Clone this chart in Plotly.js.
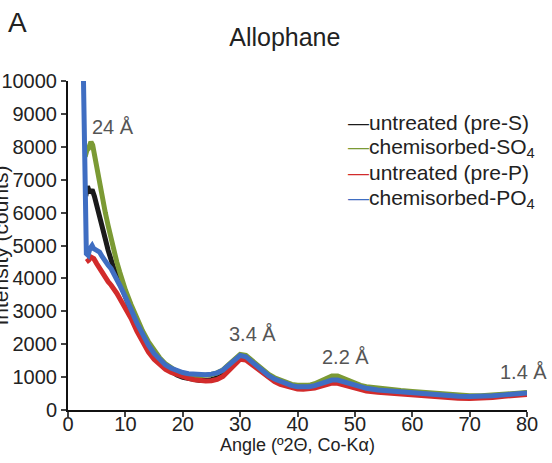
<!DOCTYPE html>
<html>
<head>
<meta charset="utf-8">
<script src="https://cdn.plot.ly/plotly-3.0.1.min.js"></script>
<style>html,body{margin:0;padding:0;background:#fff;}#chart{width:552px;height:463px;}</style>
</head>
<body>
<div id="chart"></div>
<script>
// ---- data ----
const seriesNames = ["untreated (pre-S)", "chemisorbed-SO<sub>4</sub>", "untreated (pre-P)", "chemisorbed-PO<sub>4</sub>"];

const angleBlack = [3.1,3.4,3.8,4.2,4.6,5,5.5,6,6.5,7,7.5,8,8.5,9,9.5,10,11,12,13,14,15,16,17,18,19,20,21,22,23,24,25,26,27,28,29,30,31,32,33,34,35,36,37,38,39,40,41,42,43,44,45,46,47,48,49,50,52,54,56,58,60,62,64,66,68,70,72,74,76,78,80];
const intensityBlack = [6500,6800,6600,6700,6500,6250,5900,5550,5200,4850,4550,4300,4100,3850,3650,3450,3000,2600,2230,1920,1670,1460,1290,1160,1060,990,950,920,900,900,920,980,1080,1260,1470,1610,1580,1440,1290,1140,1010,910,830,770,720,690,680,690,720,780,840,890,890,840,770,710,640,590,560,540,520,490,460,430,410,400,400,420,450,490,510];

const angleGreen = [3.0,3.3,3.6,4.0,4.3,4.7,5,5.5,6,6.5,7,7.5,8,8.5,9,9.5,10,11,12,13,14,15,16,17,18,19,20,21,22,23,24,25,26,27,28,29,30,31,32,33,34,35,36,37,38,39,40,41,42,43,44,45,46,47,48,49,50,51,52,54,56,58,60,62,64,66,68,70,72,74,76,78,80];
const intensityGreen = [7700,7900,7950,8150,8050,7650,7350,6900,6450,6000,5600,5200,4850,4500,4200,3900,3650,3200,2780,2400,2080,1800,1580,1400,1270,1170,1110,1070,1050,1040,1050,1080,1130,1220,1380,1560,1690,1660,1520,1360,1210,1080,980,900,830,780,750,740,750,800,880,970,1030,1030,960,870,800,750,710,660,620,590,560,530,500,470,440,430,430,450,480,510,530];

const angleRed = [3.2,3.6,4.0,4.5,5,5.5,6,6.5,7,7.5,8,8.5,9,9.5,10,11,12,13,14,15,16,17,18,19,20,21,22,23,24,25,26,27,28,29,30,31,32,33,34,35,36,37,38,39,40,41,42,43,44,45,46,47,48,49,50,51,52,54,56,58,60,62,64,66,68,70,72,74,76,78,80];
const intensityRed = [4500,4550,4650,4600,4450,4300,4150,4000,3900,3800,3700,3550,3400,3250,3120,2780,2400,2050,1770,1540,1360,1230,1140,1070,1010,960,920,890,880,890,930,1020,1190,1390,1540,1520,1390,1240,1090,960,860,780,720,670,640,630,640,670,720,780,820,810,760,700,650,610,580,540,510,480,460,430,400,380,360,350,360,380,420,450,470];

const angleBlue = [2.7,3.2,3.5,3.8,4.2,4.5,5,5.5,6,6.5,7,7.5,8,8.5,9,9.5,10,11,12,13,14,15,16,17,18,19,20,21,22,23,24,25,26,27,28,29,30,31,32,33,34,35,36,37,38,39,40,41,42,43,44,45,46,47,48,49,50,51,52,54,56,58,60,62,64,66,68,70,72,74,76,78,80];
const intensityBlue = [10000,4750,4700,4900,5000,4900,4850,4800,4650,4500,4400,4300,4150,3950,3800,3620,3450,3050,2650,2280,1980,1720,1520,1370,1270,1190,1140,1100,1080,1070,1070,1090,1130,1210,1360,1540,1660,1620,1480,1320,1170,1040,940,860,790,740,710,700,710,740,800,860,910,910,860,790,730,690,660,610,580,560,540,510,480,450,420,410,410,430,460,500,520];

const peakLabels = ["24 Å", "3.4 Å", "2.2 Å", "1.4 Å"];
const peakAngles = [7.8, 32.1, 48.4, 79.4];
const peakHeights = [8600, 2310, 1610, 1155];

const xTickVals = [0,10,20,30,40,50,60,70,80];
const xTickText = ["0","10","20","30","40","50","60","70","80"];
const yTickVals = [0,1000,2000,3000,4000,5000,6000,7000,8000,9000,10000];
const yTickText = ["0","1000","2000","3000","4000","5000","6000","7000","8000","9000","10000"];

// ---- styles ----
const colors = ["#1b1b1b", "#7b9a34", "#d22b2b", "#3f6ec2"];
const xs = [angleBlack, angleGreen, angleRed, angleBlue];
const ys = [intensityBlack, intensityGreen, intensityRed, intensityBlue];

const traces = xs.map((x, i) => ({
  x: x, y: ys[i], type: "scatter", mode: "lines", name: seriesNames[i],
  line: {color: colors[i], width: 5}, showlegend: false
}));

const font = "Liberation Sans, Arial, sans-serif";

const annotations = peakLabels.map((t, i) => ({
  text: t, x: peakAngles[i], y: peakHeights[i], xref: "x", yref: "y",
  showarrow: false, xanchor: "center", yanchor: "middle",
  font: {family: font, size: 20, color: "#555555"}
}));
// legend drawn as key text (short coloured dash + name)
const legendTop = 1.0 - (122 - 81) / 329;   // first row centre in paper units
const legendStep = 25.5 / 329;
seriesNames.forEach((n, i) => {
  annotations.push({
    text: '<span style="color:' + colors[i] + '">—</span>' + n,
    xref: "paper", yref: "paper", x: (346 - 68) / 459, y: legendTop - i * legendStep,
    showarrow: false, xanchor: "left", yanchor: "middle",
    font: {family: font, size: 21, color: "#222"}
  });
});
annotations.push({
  text: "A", xref: "paper", yref: "paper", x: -0.109, y: 1.179,
  showarrow: false, xanchor: "center", yanchor: "middle",
  font: {family: font, size: 28, color: "#222"}
});
annotations.push({
  text: "Intensity (counts)", xref: "paper", yref: "paper", x: -0.146, y: 0.5,
  textangle: -90, showarrow: false, xanchor: "center", yanchor: "middle",
  font: {family: font, size: 21, color: "#222"}
});

const layout = {
  width: 552, height: 463,
  margin: {l: 68, r: 25, t: 81, b: 53},
  paper_bgcolor: "#fff", plot_bgcolor: "#fff",
  title: {text: "Allophane", xref: "container", x: 0.516, xanchor: "center",
          yref: "container", y: 0.92, yanchor: "middle",
          font: {family: font, size: 25, color: "#222"}},
  xaxis: {
    range: [0, 80], tickvals: xTickVals, ticktext: xTickText, ticks: "outside", ticklen: 5, tickwidth: 2,
    ticklabelstandoff: -10,
    showline: true, linecolor: "#111", linewidth: 2, showgrid: false, zeroline: false,
    tickfont: {family: font, size: 20, color: "#222"},
    title: {text: "Angle (º2Θ, Co-Kα)", standoff: 0, font: {family: font, size: 18, color: "#222"}}
  },
  yaxis: {
    range: [0, 10000], tickvals: yTickVals, ticktext: yTickText, ticks: "outside", ticklen: 5, tickwidth: 2,
    showline: true, linecolor: "#111", linewidth: 2, showgrid: false, zeroline: false,
    tickfont: {family: font, size: 20, color: "#222"}
  },
  showlegend: false,
  annotations: annotations
};

Plotly.newPlot("chart", traces, layout, {staticPlot: true, displayModeBar: false});
</script>
</body>
</html>
